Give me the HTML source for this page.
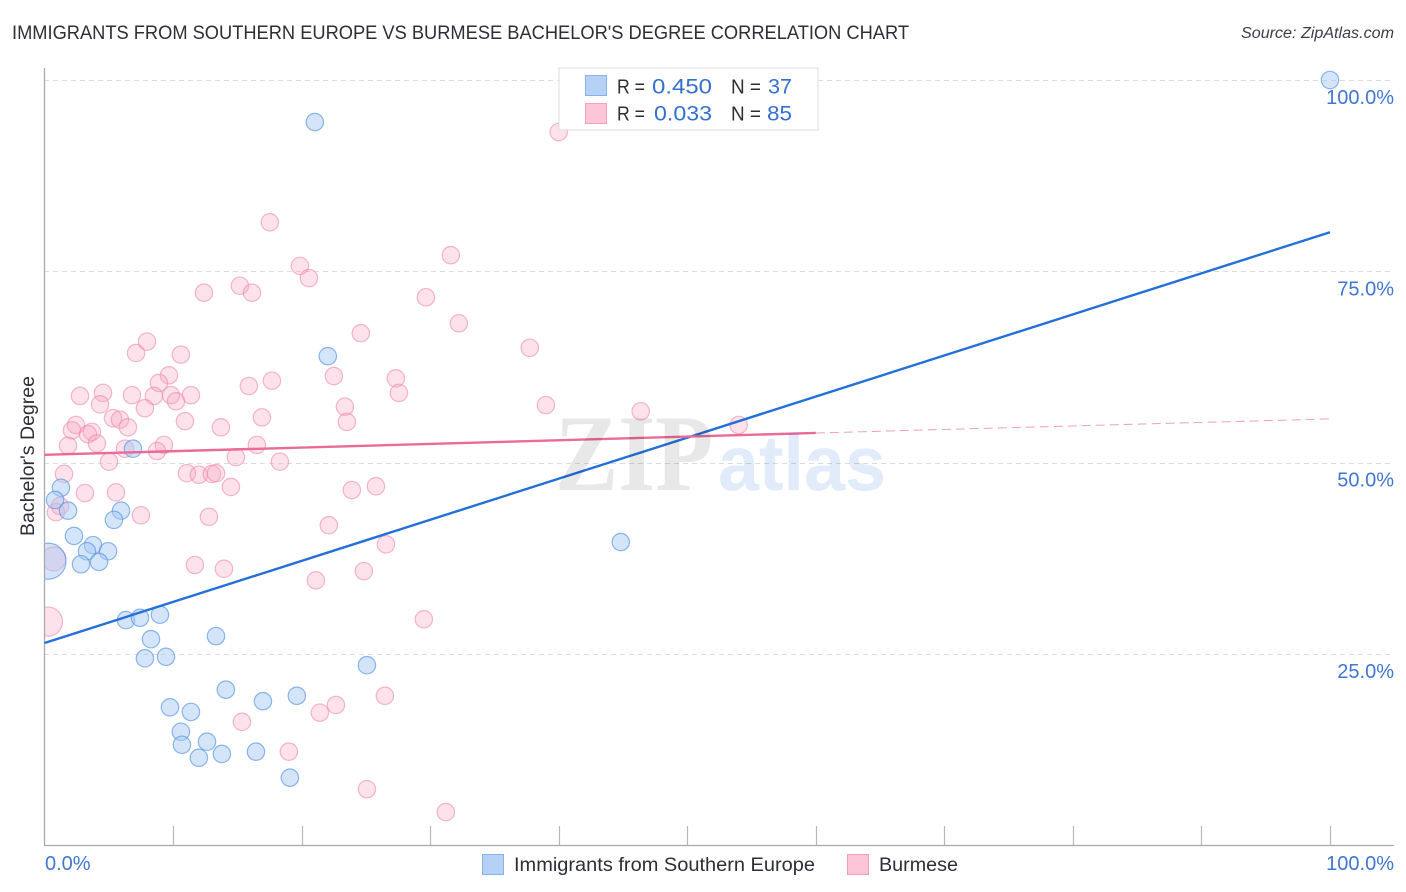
<!DOCTYPE html>
<html lang="en">
<head>
<meta charset="utf-8">
<title>Immigrants from Southern Europe vs Burmese Bachelor's Degree Correlation Chart</title>
<style>
html,body{margin:0;padding:0;background:#fff;}
body{width:1406px;height:892px;overflow:hidden;font-family:"Liberation Sans",sans-serif;}
svg{display:block;}
text{font-family:"Liberation Sans",sans-serif;}
</style>
</head>
<body>
<svg id="chart" width="1406" height="892" viewBox="0 0 1406 892" xmlns="http://www.w3.org/2000/svg">
  <text x="12" y="39" font-size="19" fill="#2b2f36" textLength="897" lengthAdjust="spacingAndGlyphs">IMMIGRANTS FROM SOUTHERN EUROPE VS BURMESE BACHELOR'S DEGREE CORRELATION CHART</text>
  <text x="1241" y="38" font-size="15.5" font-style="italic" fill="#3a3f47" textLength="153" lengthAdjust="spacingAndGlyphs">Source: ZipAtlas.com</text>

  <g id="grid"></g>

  <g id="points"></g>
  <rect x="0" y="500" width="44" height="346" fill="#fff"/>
  <g id="axes"></g>
  <g id="trends"></g>

  <g style="mix-blend-mode:multiply">
    <text x="555" y="490" font-size="109" font-weight="bold" fill="#e8e8e8" textLength="158" lengthAdjust="spacingAndGlyphs" style="font-family:'Liberation Serif',serif">ZIP</text>
    <text x="718" y="490" font-size="78" font-weight="bold" fill="#e2ebf9" textLength="168" lengthAdjust="spacingAndGlyphs">atlas</text>
  </g>

  <g id="tick-labels"></g>

  <text transform="translate(34 456) rotate(-90)" font-size="19.5" fill="#2b2f36" text-anchor="middle" textLength="160" lengthAdjust="spacingAndGlyphs">Bachelor's Degree</text>

  <g>
    <rect x="559" y="68" width="259" height="62" fill="#fff" stroke="#dddddd" stroke-width="1"/>
    <rect x="585.5" y="75.5" width="21" height="20" fill="#b5d2f6" stroke="#86b2ea"/>
    <rect x="585.5" y="103.5" width="21" height="20" fill="#fcc5d8" stroke="#f2a0bd"/>
    <text x="617" y="93.5" font-size="20" fill="#2b2f36" textLength="28" lengthAdjust="spacingAndGlyphs">R =</text>
    <text x="652" y="93.5" font-size="21" fill="#3470d0" textLength="60" lengthAdjust="spacingAndGlyphs">0.450</text>
    <text x="731" y="93.5" font-size="20" fill="#2b2f36" textLength="30" lengthAdjust="spacingAndGlyphs">N =</text>
    <text x="768" y="93.5" font-size="21" fill="#3470d0" textLength="24" lengthAdjust="spacingAndGlyphs">37</text>
    <text x="617" y="120.5" font-size="20" fill="#2b2f36" textLength="28" lengthAdjust="spacingAndGlyphs">R =</text>
    <text x="654" y="120.5" font-size="21" fill="#3470d0" textLength="58" lengthAdjust="spacingAndGlyphs">0.033</text>
    <text x="731" y="120.5" font-size="20" fill="#2b2f36" textLength="30" lengthAdjust="spacingAndGlyphs">N =</text>
    <text x="767" y="120.5" font-size="21" fill="#3470d0" textLength="25" lengthAdjust="spacingAndGlyphs">85</text>
  </g>

  <g>
    <g>
      <rect x="482.5" y="854.5" width="21" height="20" fill="#b5d2f6" stroke="#86b2ea"/>
      <text x="514" y="871" font-size="19.5" fill="#2b2f36" textLength="301" lengthAdjust="spacingAndGlyphs">Immigrants from Southern Europe</text>
    </g>
    <g>
      <rect x="847.5" y="854.5" width="21" height="20" fill="#fcc5d8" stroke="#f2a0bd"/>
      <text x="879" y="871" font-size="19.5" fill="#2b2f36" textLength="79" lengthAdjust="spacingAndGlyphs">Burmese</text>
    </g>
  </g>
</svg>

<script>
var blueX = [100,21.03,22.04,6.88,1.28,0.82,1.83,5.95,5.40,2.29,3.77,3.30,4.94,2.84,4.24,44.83,0.27,6.34,7.43,8.98,8.28,13.34,7.81,9.45,25.08,14.11,19.63,16.99,9.76,11.39,10.61,10.69,12.64,12.01,13.80,16.45,19.09];
var blueY = [100,94.5,63.9,51.8,46.7,45.1,43.7,43.7,42.5,40.4,39.2,38.4,38.4,36.7,37.0,39.6,37.1,29.4,29.7,30.1,26.9,27.3,24.4,24.6,23.5,20.3,19.5,18.8,18.0,17.4,14.8,13.1,13.5,11.4,11.9,12.2,8.8];
var blueWeight = [1,1,1,1,1,1,1,1,1,1,1,1,1,1,1,1,4.3,1,1,1,1,1,1,1,1,1,1,1,1,1,1,1,1,1,1,1,1];

var pinkX = [40.0,17.53,31.61,19.87,20.57,15.20,16.14,12.40,29.67,32.23,24.61,7.97,37.75,7.12,10.61,22.51,27.33,9.68,17.69,8.90,15.90,4.55,2.76,6.80,11.39,9.84,27.57,8.51,10.23,4.32,7.81,39.0,23.37,46.38,5.33,5.87,10.93,16.91,23.52,54.0,13.72,6.49,2.45,2.14,3.69,3.38,4.08,1.83,6.26,9.29,8.75,16.52,14.89,5.02,18.31,1.52,11.08,12.01,13.02,13.34,14.50,23.91,25.78,3.15,5.56,1.21,0.89,7.50,12.79,22.12,26.56,11.70,13.96,21.11,24.84,0.27,29.51,26.48,22.67,21.42,15.36,19.01,25.08,31.22,0.72];
var pinkY = [93.2,81.4,77.1,75.7,74.1,73.1,72.2,72.2,71.6,68.2,66.9,65.8,65.0,64.3,64.1,61.3,61.0,61.4,60.7,60.4,60.0,59.1,58.7,58.8,58.8,58.8,59.1,58.7,58.0,57.6,57.1,57.5,57.3,56.7,55.8,55.6,55.4,55.9,55.3,54.9,54.6,54.6,54.9,54.2,54.0,53.7,52.5,52.2,51.8,52.3,51.5,52.3,50.7,50.1,50.1,48.5,48.6,48.4,48.5,48.6,46.8,46.4,46.9,46.0,46.1,44.3,43.5,43.1,42.9,41.8,39.3,36.6,36.1,34.6,35.8,29.2,29.5,19.5,18.3,17.3,16.1,12.2,7.3,4.3,37.4];
var pinkWeight = [1,1,1,1,1,1,1,1,1,1,1,1,1,1,1,1,1,1,1,1,1,1,1,1,1,1,1,1,1,1,1,1,1,1,1,1,1,1,1,1,1,1,1,1,1,1,1,1,1,1,1,1,1,1,1,1,1,1,1,1,1,1,1,1,1,1,1,1,1,1,1,1,1,1,1,2.8,1,1,1,1,1,1,1,1,1.9];

var blueTrendX = [0,100];
var blueTrendY = [26.4,80.1];
var pinkTrendX = [0,60];
var pinkTrendY = [51.0,53.86];
var pinkForecastX = [60,100];
var pinkForecastY = [53.86,55.7];

var yTickValues = [25,50,75,100];
var yTickLabels = ["25.0%","50.0%","75.0%","100.0%"];
var xTickValues = [10,20,30,40,50,60,70,80,90,100];
var xEndValues = [0,100];
var xEndLabels = ["0.0%","100.0%"];

var NS = "http://www.w3.org/2000/svg";
function xPos(v){ return 44.5 + v * 12.855; }
function yPos(v){ return 845 - v * 7.65; }
function rPos(w){ return 8.7 * Math.sqrt(w); }
function make(tag, attrs, parent){
  var el = document.createElementNS(NS, tag);
  for (var k in attrs) { el.setAttribute(k, attrs[k]); }
  parent.appendChild(el);
  return el;
}

var gridG = document.getElementById("grid");
var axesG = document.getElementById("axes");
var pointsG = document.getElementById("points");
var trendsG = document.getElementById("trends");
var labelsG = document.getElementById("tick-labels");

yTickValues.forEach(function(v, i){
  var y = Math.round(yPos(v)) + 0.5;
  var line = make("line", {x1:44, x2:1394, y1:y, y2:y, stroke:"#dcdcdc", "stroke-width":1, "stroke-dasharray":"5 4"}, gridG);
  
  
  var label = make("text", {x:1394, y:yPos(v) + 24, "font-size":20, fill:"#4176d3", "text-anchor":"end"}, labelsG);
  label.textContent = yTickLabels[i];
  
  
});

var yAxis = make("line", {x1:44.5, x2:44.5, y1:68, y2:846, stroke:"#aaaaaa", "stroke-width":1.3}, axesG);


var xAxis = make("line", {x1:44, x2:1394, y1:845.5, y2:845.5, stroke:"#aaaaaa", "stroke-width":1.3}, axesG);



xTickValues.forEach(function(v){
  var x = Math.round(xPos(v)) + 0.5;
  var tick = make("line", {x1:x, x2:x, y1:826, y2:845, stroke:"#b8b8b8", "stroke-width":1.2}, axesG);
  
  
});

xEndValues.forEach(function(v, i){
  var label = make("text", {x:i === 0 ? 45 : 1394, y:870, "font-size":20, fill:"#4176d3", "text-anchor":i === 0 ? "start" : "end"}, labelsG);
  label.textContent = xEndLabels[i];
  
  
});

pinkX.forEach(function(v, i){
  var c = make("circle", {cx:xPos(v), cy:yPos(pinkY[i]), r:rPos(pinkWeight[i]), fill:"#f8a5c2", "fill-opacity":0.33, stroke:"#ec8aad", "stroke-opacity":0.6, "stroke-width":1.2}, pointsG);
  
  
});
blueX.forEach(function(v, i){
  var c = make("circle", {cx:xPos(v), cy:yPos(blueY[i]), r:rPos(blueWeight[i]), fill:"#a5c9f5", "fill-opacity":0.48, stroke:"#4a8be0", "stroke-opacity":0.6, "stroke-width":1.2}, pointsG);
  
  
});

var blueLine = make("line", {x1:xPos(blueTrendX[0]), y1:yPos(blueTrendY[0]), x2:xPos(blueTrendX[1]), y2:yPos(blueTrendY[1]), stroke:"#2470d8", "stroke-width":2.4}, trendsG);


var pinkLine = make("line", {x1:xPos(pinkTrendX[0]), y1:yPos(pinkTrendY[0]), x2:xPos(pinkTrendX[1]), y2:yPos(pinkTrendY[1]), stroke:"#ea6a98", "stroke-width":2.4}, trendsG);


var pinkDash = make("line", {x1:xPos(pinkForecastX[0]), y1:yPos(pinkForecastY[0]), x2:xPos(pinkForecastX[1]), y2:yPos(pinkForecastY[1]), stroke:"#ea6a98", "stroke-opacity":0.65, "stroke-width":1, "stroke-dasharray":"9 5"}, trendsG);


</script>
</body>
</html>
